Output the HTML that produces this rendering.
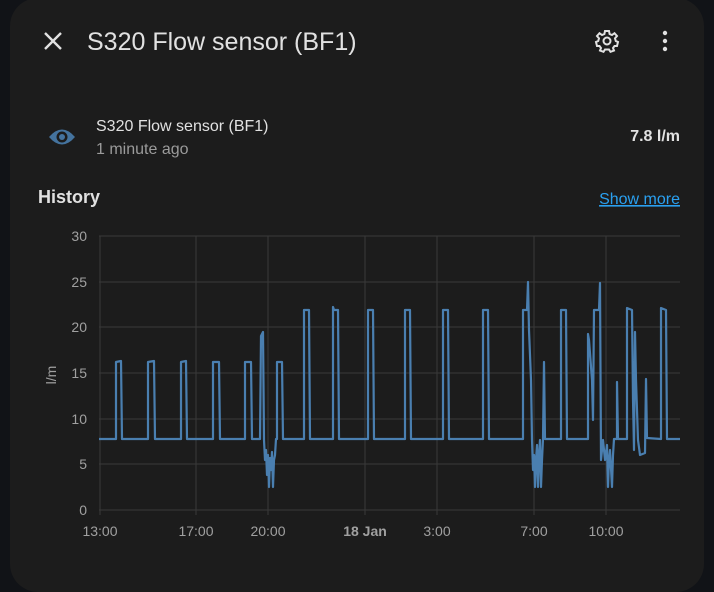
<!DOCTYPE html>
<html><head><meta charset="utf-8"><style>
html,body{margin:0;padding:0;background:#111317;width:714px;height:592px;overflow:hidden;}
svg text{font-family:"Liberation Sans",sans-serif;}
</style></head><body>
<svg width="714" height="592" viewBox="0 0 714 592" xmlns="http://www.w3.org/2000/svg">
<rect x="10" y="-2" width="694" height="594" rx="28" fill="#1c1c1c"/>
<!-- close -->
<path d="M45 33 L61 49 M61 33 L45 49" stroke="#e1e1e1" stroke-width="2.4"/>
<text x="87" y="50" font-size="25" fill="#e1e1e1">S320 Flow sensor (BF1)</text>
<!-- gear -->
<g transform="translate(607,41)" fill="none" stroke="#e1e1e1" stroke-width="2">
<circle r="3.5"/>
<path d="M-2 -10 L2 -10 L2.6 -7 L5 -6 L7.5 -7.8 L10 -5 L8 -2.6 L8.8 0 L11 1 L10 5 L7.5 5 L6 7 L7 9.5 L3.5 10.8 L2 8.5 L-2 8.5 L-3.5 10.8 L-7 9.5 L-6 7 L-7.5 5 L-10 5 L-11 1 L-8.8 0 L-8 -2.6 L-10 -5 L-7.5 -7.8 L-5 -6 L-2.6 -7 Z"/>
</g>
<g fill="#e1e1e1"><circle cx="665" cy="33" r="2.2"/><circle cx="665" cy="41" r="2.2"/><circle cx="665" cy="49" r="2.2"/></g>
<!-- eye -->
<path d="M49 137 Q62 122 75 137 Q62 152 49 137 Z" fill="#44739e"/>
<circle cx="62" cy="137" r="5.5" fill="#1c1c1c"/><circle cx="62" cy="137" r="3" fill="#44739e"/>
<text x="96" y="131" font-size="16" fill="#e1e1e1">S320 Flow sensor (BF1)</text>
<text x="96" y="154" font-size="16" fill="#9b9b9b">1 minute ago</text>
<text x="680" y="141" font-size="16" fill="#e1e1e1" text-anchor="end" font-weight="bold">7.8 l/m</text>
<text x="38" y="203" font-size="18" font-weight="bold" fill="#e1e1e1">History</text>
<text x="680" y="204" font-size="16" fill="#2aa0f0" text-anchor="end" text-decoration="underline">Show more</text>
<!-- grid -->
<g stroke="#3a3a3a" stroke-width="1">
<line x1="99" y1="236" x2="680" y2="236"/><line x1="99" y1="282" x2="680" y2="282"/>
<line x1="99" y1="327" x2="680" y2="327"/><line x1="99" y1="373" x2="680" y2="373"/>
<line x1="99" y1="419" x2="680" y2="419"/><line x1="99" y1="464" x2="680" y2="464"/>
<line x1="99" y1="510" x2="680" y2="510"/>
<line x1="100" y1="236" x2="100" y2="515"/><line x1="196" y1="236" x2="196" y2="515"/>
<line x1="268" y1="236" x2="268" y2="515"/><line x1="365" y1="236" x2="365" y2="515"/>
<line x1="437" y1="236" x2="437" y2="515"/><line x1="534" y1="236" x2="534" y2="515"/>
<line x1="606" y1="236" x2="606" y2="515"/>
</g>
<g font-size="14" fill="#a0a0a0" text-anchor="end">
<text x="87" y="241">30</text><text x="87" y="287">25</text><text x="87" y="332">20</text>
<text x="87" y="378">15</text><text x="87" y="424">10</text><text x="87" y="469">5</text><text x="87" y="515">0</text>
</g>
<text transform="translate(56,375) rotate(-90)" font-size="14" fill="#a0a0a0" text-anchor="middle">l/m</text>
<g font-size="14" fill="#a0a0a0" text-anchor="middle">
<text x="100" y="536">13:00</text><text x="196" y="536">17:00</text><text x="268" y="536">20:00</text>
<text x="365" y="536" font-weight="bold">18 Jan</text><text x="437" y="536">3:00</text>
<text x="534" y="536">7:00</text><text x="606" y="536">10:00</text>
</g>
<polyline fill="none" stroke="#4a7fb0" stroke-width="2.2" stroke-linejoin="round" points="
99,439 116,439 116,362 121,361 122,439 148,439 148,362 154,361 155,439 181,439 181,362 186,361 187,439
213,439 213,362 219,362 220,439 245,439 245,362 251,362 252,439 260,439 261,336 263,332 264,440 265,460
266,450 267,475 268,455 269,487 270,458 271,470 272,452 273,487 274,460 275,455 276,439 277,439 277,362
282,362 283,439 304,439 304,310 309,310 310,439 333,439 333,307 334,310 338,310 339,439 368,439 368,310
373,310 374,439 405,439 405,310 410,310 411,439 443,439 443,310 448,310 449,439 483,439 483,310 488,310
489,439 523,439 523,310 527,310 528,282 529,330 531,380 532,440 533,470 534,455 535,487 536,460 537,445
538,487 539,455 540,440 541,487 542,460 543,439 544,362 545,439 561,439 561,310 566,310 567,439 588,439
588,334 589,340 592,380 593,420 594,310 595,310 599,310 600,283 601,460 603,440 605,460 607,445 608,487
609,460 610,450 612,487 613,455 614,439 617,439 617,382 618,439 627,439 627,308 632,310 633,400 634,450
635,332 636,380 638,440 640,455 645,453 646,379 647,438 661,439 661,308 666,310 667,439 680,439"/>
</svg>
</body></html>
